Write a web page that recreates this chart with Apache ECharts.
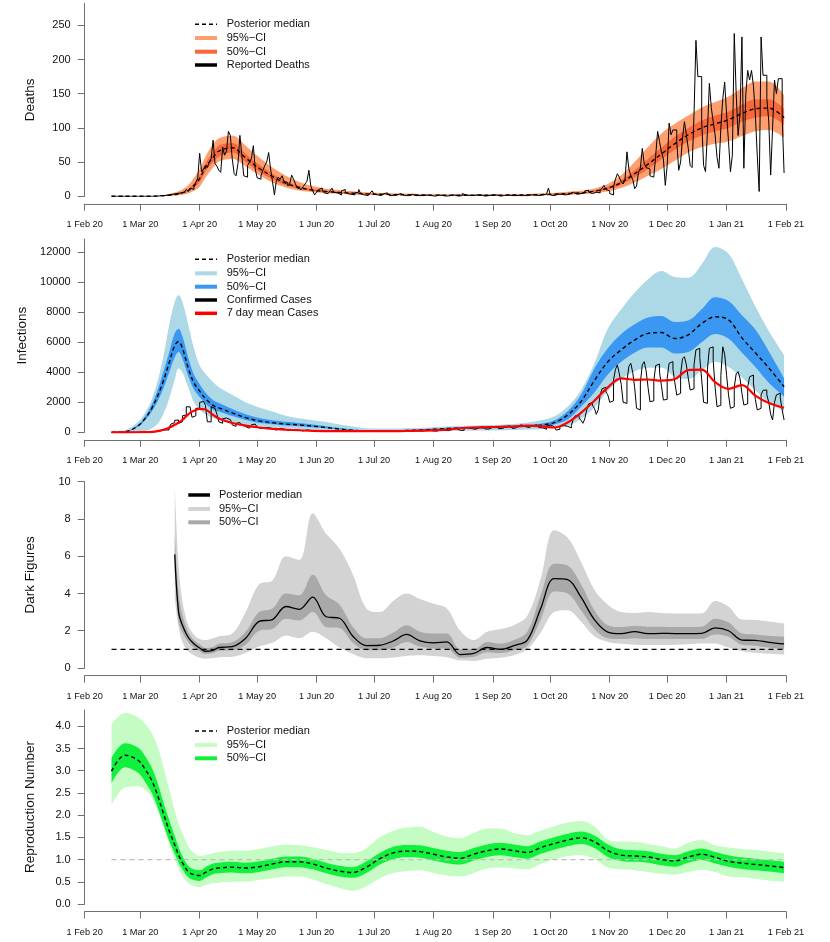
<!DOCTYPE html>
<html><head><meta charset="utf-8">
<script src="https://cdn.jsdelivr.net/npm/echarts@6/dist/echarts.min.js"></script>
<style>html,body{margin:0;padding:0;background:#fff}#c{width:830px;height:942px}</style>
</head><body><div id="c"></div>
<script>
// ---------- axis ticks ----------
const monthDays = [0,29,60,90,121,151,182,213,243,274,304,335,366];
const monthLabels = ['1 Feb 20','1 Mar 20','1 Apr 20','1 May 20','1 Jun 20','1 Jul 20','1 Aug 20','1 Sep 20','1 Oct 20','1 Nov 20','1 Dec 20','1 Jan 21','1 Feb 21'];
const deathTicks = [0,50,100,150,200,250];
const infTicks = [0,2000,4000,6000,8000,10000,12000];
const darkTicks = [0,2,4,6,8,10];
const rTicks = [0,0.5,1,1.5,2,2.5,3,3.5,4];

// ---------- days (offset from 1 Feb 2020) for model curves ----------
const knotDays = [14,21,28,32,35,38,41,44,47,49,51,54,57,60,63,67,70,
  77,84,91,98,105,112,119,126,133,140,147,154,161,168,
  175,182,189,196,203,210,217,224,231,238,245,252,259,266,273,280,287,294,301,308,315,322,329,336,343,350,357,
  365];
const dailyStart = 14; // 15 Feb 2020
const refLineDays = [14,365];

// ---------- Deaths ----------
const deathsReported = [
  0,0,0,0,0,0,0, 0,0,0,0,0,0,0, 0,0,0,0,0,0,0, 0,0,0,0,1,0,1,
  1,2,1,3,2,4,3, 5,3,6,8,10,7,12, 10,13,20,27,63,36,40, 45,42,50,55,82,48,44,
  38,35,72,60,66,95,89, 55,33,30,48,89,60,30, 28,45,50,55,74,40,27, 25,30,38,45,50,64,40,
  22,2,22,28,25,30,22, 20,15,18,31,25,18,12, 10,8,14,18,22,38,15, 8,2,6,10,12,8,5,
  4,3,8,12,6,5,3, 2,8,10,7,4,3,2, 2,5,6,10,4,2,1, 1,3,5,8,3,2,1,
  1,2,4,5,3,1,1, 0,2,3,4,2,1,0, 1,2,3,2,1,0,1, 0,1,2,2,1,1,0,
  0,1,2,1,1,0,0, 1,1,2,2,1,0,0, 1,4,2,1,1,0,1, 1,2,1,2,1,0,0,
  1,1,2,1,2,1,0, 0,1,2,2,1,1,0, 1,2,1,2,1,0,1, 1,2,3,2,1,1,1,
  2,2,3,3,12,2,1, 2,3,4,3,2,2,3, 3,5,6,4,3,2,4, 3,5,8,9,6,4,3,
  6,8,5,9,12,16,10, 8,4,2,14,25,33,28, 21,18,25,65,40,30,25, 11,15,35,41,70,48,42,
  40,30,28,29,60,95,80, 65,55,16,45,107,90,97, 97,80,38,50,85,109,90, 70,45,42,120,228,175,175,
  110,45,36,95,165,130,109, 90,57,41,100,143,167,120, 80,36,60,238,150,89,120, 233,41,148,184,170,184,162,
  120,60,7,233,177,177,143, 110,31,100,170,150,172,172, 116,34];
const deathsMed = [0,0,0,0,0.2,0.4,0.8,1.5,2.5,3.5,5,8.5,16,26,42,57,66,
  71,56,41,29,19,13,9,7,5.5,4.5,3.5,3,2.5,2,
  2,1.5,1.5,1.5,1.5,1.5,1.5,2,2,2.5,3,4,5,7.5,12,20,33,47,62,77,90,100,106,112,121,128,129,
  115];
const deathsHi95 = [0,0,0,0,0.5,1,2,3.5,5.5,7.5,10,16,27,40,58,76,85,
  89,74,57,42,30,21,15,11,9,7.5,6,5,4.5,4,
  3.5,3,3,3,3,3,3,3.5,3.5,4.5,5,6.5,8,11.5,18,31,50,72,92,106,118,130,138,146,158,168,168,
  148];
const deathsLo95 = [0,0,0,0,0,0.1,0.3,0.6,1,1.5,2.3,4,8,14,27,42,51,
  55,44,31,20,13,8.5,6,4.5,3.5,2.8,2.2,1.8,1.5,1.2,
  1.1,0.9,0.9,0.9,0.9,0.9,0.9,1.1,1.1,1.4,1.7,2.3,3,4.5,7,12,20,30,40,52,64,72,77,80,88,95,97,
  86];
const deathsHi50 = [0,0,0,0,0.25,0.5,1,1.9,3.1,4.3,6,10,19,31,48,64,74,
  78,62,46,33,22,15,10.5,8,6.5,5.3,4.2,3.6,3,2.4,
  2.4,1.8,1.8,1.8,1.8,1.8,1.8,2.4,2.4,3,3.6,4.7,5.8,8.7,14,23.5,38,55,71,87,100,111,118,124,134,142,142,
  128];
const deathsLo50 = [0,0,0,0,0.15,0.3,0.6,1.1,2,2.8,4,7,13,21,36,50,58,
  64,50,36,25,16,11,7.5,6,4.5,3.7,3,2.5,2.1,1.7,
  1.7,1.25,1.25,1.25,1.25,1.25,1.25,1.7,1.7,2.1,2.5,3.4,4.3,6.3,10,17,28,40,54,68,80,89,95,100,109,115,117,
  104];

// ---------- Infections ----------
const casesConfirmed = [
  0,0,0,0,0,0,0, 0,0,0,0,0,1,1, 2,3,5,8,10,15,20, 30,40,60,80,100,130,160,
  180,150,300,550,650,800,820, 600,700,1100,1150,1700,1700,1600, 1000,1100,1600,1600,2000,2050,1930, 1800,700,700,1700,1600,1500,1200,
  700,600,900,950,900,850,800, 490,400,600,650,600,500,380, 300,270,400,500,550,450,350, 250,200,300,350,320,300,250,
  180,150,200,260,250,220,180, 130,110,160,200,190,170,140, 110,90,130,160,150,130,110, 90,70,110,130,120,110,90,
  80,60,100,120,110,100,80, 70,55,95,115,105,95,80, 70,50,90,110,105,95,75, 65,50,90,110,100,90,70,
  65,50,95,110,100,90,70, 70,55,100,120,110,95,75, 70,60,110,130,120,100,80, 80,70,130,150,140,110,90,
  90,80,150,180,170,130,100, 110,100,200,250,240,180,130, 150,130,280,330,320,250,180, 200,180,330,400,380,300,220,
  220,200,350,430,400,320,240, 250,220,380,460,440,350,270, 280,240,420,500,480,380,300, 320,260,450,550,500,400,320,
  300,180,200,420,480,450,380, 280,150,200,380,450,460,400, 350,300,450,900,1100,1150,950, 800,600,900,1500,1900,2000,1800,
  1600,1200,1500,2500,2900,3000,2700, 2500,2000,2100,3500,4200,4490,3900, 3200,2000,1930,3400,4400,4600,4000, 3000,1600,1490,3300,4500,4710,4100,
  3000,2040,2100,3400,4450,4550,4000, 3100,2150,2200,3600,4600,4710,4200, 3300,2480,2600,3900,4900,5040,4500, 3600,2820,2900,4500,5500,5600,5000,
  3500,2000,1930,4200,5600,5700,4800, 3000,1710,1800,3800,5700,5200,3800, 2500,1600,1700,3000,3900,4040,3600, 2600,1820,1900,3000,3700,3820,3300,
  2200,1490,1600,2500,2800,2820,2500, 2000,1200,820,2000,2500,2600,2300, 1500,820];
const casesMean7 = [0,0,5,10,30,80,170,300,500,650,820,1200,1430,1560,1520,1160,920,
  620,450,320,230,175,135,95,80,75,75,75,75,80,90,
  110,130,170,270,320,340,370,400,440,400,320,650,1300,2100,3000,3600,3500,3520,3450,3550,4150,4180,3350,2900,3150,2450,1950,
  1640];
const infMed = [0,30,450,1000,1600,2400,3400,4600,5800,6050,5600,4300,3300,2750,2250,1800,1630,
  1290,980,760,640,550,490,410,320,220,140,90,80,90,120,
  150,200,250,280,300,320,350,380,420,480,650,1150,2050,3450,4700,5500,6150,6600,6650,6250,6500,7250,7700,7500,6300,5300,4300,
  3040];
const infHi95 = [0,130,700,1400,2200,3400,5000,7100,8700,9150,8700,7200,5600,4450,3900,3350,3000,
  2500,2000,1650,1380,1100,930,800,680,520,380,270,250,250,270,
  290,340,380,420,450,480,510,550,650,800,1050,1700,2800,4600,6900,8200,9300,10200,10750,10350,10300,11200,12350,11900,10200,8400,6750,
  5150];
const infLo95 = [0,0,30,100,250,550,1200,2200,3500,4250,4000,3000,2000,1500,1200,950,820,
  620,480,380,320,270,220,170,140,100,70,50,40,40,45,
  50,70,90,100,110,120,140,160,180,210,330,420,900,1650,2750,3550,4050,4300,4300,3700,3550,4100,4700,4350,3650,2800,2000,
  1380];
const infHi50 = [0,50,520,1150,1850,2800,4000,5300,6600,6900,6400,5000,3850,3200,2650,2150,1950,
  1550,1200,950,800,700,620,520,410,290,190,130,110,115,145,
  185,250,310,340,370,390,420,450,490,570,780,1400,2500,4250,5600,6550,7200,7650,7750,7350,7450,8200,9000,8750,7800,6850,5400,
  3600];
const infLo50 = [0,20,390,870,1380,2050,2900,3950,5000,5350,4900,3750,2850,2350,1900,1520,1380,
  1080,820,640,540,460,410,340,260,180,110,70,60,65,95,
  115,155,195,220,235,250,280,310,350,400,520,850,1700,2650,3850,4700,5300,5650,5650,5250,5350,6000,6550,6250,5300,4350,3300,
  2380];

// ---------- Dark figures ----------
const darkMed = [null,null,null,null,null,null,null,null,6.1,3.0,2.3,1.65,1.3,1.07,0.9,0.95,1.1,
  1.15,1.6,2.5,2.6,3.3,3.15,3.8,2.75,2.67,1.7,1.2,1.22,1.45,1.8,
  1.45,1.35,1.4,0.72,0.78,1.1,1.0,1.2,1.5,3.2,4.8,4.75,3.8,2.6,1.93,1.84,1.95,1.84,1.86,1.85,1.85,1.86,2.15,2.0,1.5,1.48,1.38,
  1.29];
const darkHi95 = [null,null,null,null,null,null,null,null,9.8,5.5,3.6,2.3,1.8,1.55,1.5,1.6,1.7,
  1.85,3.0,4.5,4.7,6.0,5.8,8.3,7.2,6.4,5.0,3.2,3.0,3.6,4.0,
  3.7,3.45,3.2,2.0,1.5,1.95,2.1,2.3,2.8,4.8,7.4,7.0,5.7,4.2,3.4,3.0,2.95,3.0,2.95,2.93,2.93,2.93,3.6,3.3,2.6,2.58,2.5,
  2.4];
const darkLo95 = [null,null,null,null,null,null,null,null,3.8,2.2,1.4,0.9,0.68,0.55,0.5,0.52,0.58,
  0.6,0.8,1.15,1.35,1.75,1.6,1.95,1.6,1.1,0.75,0.52,0.52,0.56,0.65,
  0.68,0.64,0.58,0.4,0.38,0.5,0.55,0.68,1.0,1.9,3.0,3.1,2.5,1.7,1.4,1.3,1.25,1.23,1.23,1.25,1.28,1.32,1.32,1.1,0.9,0.82,0.76,
  0.7];
const darkHi50 = [null,null,null,null,null,null,null,null,7.2,4.0,2.85,1.95,1.5,1.27,1.08,1.13,1.3,
  1.38,1.95,3.0,3.2,4.0,3.9,5.0,3.9,3.4,2.2,1.6,1.6,1.9,2.3,
  1.95,1.85,1.85,1.0,1.0,1.4,1.3,1.5,1.95,3.9,5.6,5.5,4.5,3.1,2.3,2.2,2.27,2.22,2.22,2.2,2.2,2.22,2.65,2.45,1.85,1.8,1.73,
  1.68];
const darkLo50 = [null,null,null,null,null,null,null,null,5.2,2.5,1.9,1.4,1.1,0.9,0.75,0.8,0.92,
  0.95,1.25,2.0,2.1,2.65,2.55,3.0,2.2,2.15,1.35,0.95,0.95,1.1,1.4,
  1.15,1.05,1.05,0.55,0.6,0.85,0.8,0.95,1.2,2.6,4.1,4.0,3.1,2.1,1.6,1.55,1.6,1.55,1.55,1.55,1.55,1.56,1.8,1.68,1.25,1.2,1.1,
  1.0];

// ---------- Reproduction number ----------
const rMed = [2.99,3.35,3.23,3.0,2.78,2.45,2.05,1.66,1.33,1.1,0.93,0.73,0.66,0.64,0.71,0.79,0.81,
  0.83,0.81,0.84,0.9,0.95,0.95,0.9,0.81,0.74,0.71,0.83,1.02,1.15,1.19,
  1.18,1.12,1.06,1.03,1.12,1.2,1.24,1.2,1.16,1.27,1.36,1.44,1.49,1.4,1.2,1.1,1.08,1.06,1.0,0.97,1.06,1.12,1.05,0.96,0.92,0.89,0.86,
  0.82];
const rHi95 = [4.04,4.3,4.2,4.03,3.85,3.55,3.1,2.6,2.1,1.8,1.6,1.3,1.15,1.08,1.1,1.14,1.17,
  1.2,1.2,1.24,1.3,1.34,1.32,1.28,1.22,1.15,1.14,1.26,1.5,1.65,1.72,
  1.74,1.62,1.52,1.48,1.6,1.7,1.7,1.6,1.55,1.65,1.75,1.83,1.87,1.75,1.45,1.4,1.4,1.35,1.3,1.25,1.38,1.44,1.32,1.27,1.24,1.22,1.18,
  1.14];
const rLo95 = [2.23,2.62,2.65,2.55,2.4,2.1,1.75,1.35,1.0,0.8,0.63,0.47,0.4,0.38,0.42,0.47,0.48,
  0.5,0.5,0.54,0.58,0.62,0.62,0.55,0.45,0.36,0.3,0.4,0.58,0.7,0.74,
  0.76,0.7,0.64,0.62,0.7,0.8,0.82,0.8,0.78,0.9,1.0,1.08,1.1,1.02,0.82,0.78,0.76,0.72,0.68,0.66,0.72,0.77,0.72,0.62,0.6,0.57,0.53,
  0.5];
const rHi50 = [3.29,3.62,3.52,3.3,3.07,2.73,2.3,1.9,1.53,1.28,1.08,0.86,0.78,0.76,0.83,0.91,0.93,
  0.95,0.93,0.96,1.02,1.07,1.07,1.02,0.93,0.86,0.83,0.96,1.15,1.29,1.33,
  1.32,1.26,1.2,1.17,1.26,1.34,1.38,1.34,1.3,1.41,1.5,1.58,1.63,1.54,1.34,1.23,1.21,1.19,1.13,1.1,1.19,1.25,1.17,1.1,1.05,1.02,0.99,
  0.95];
const rLo50 = [2.72,3.08,2.95,2.72,2.5,2.18,1.8,1.43,1.13,0.93,0.78,0.6,0.54,0.52,0.59,0.67,0.69,
  0.71,0.69,0.72,0.78,0.83,0.83,0.78,0.69,0.62,0.59,0.7,0.89,1.01,1.05,
  1.04,0.98,0.92,0.89,0.98,1.06,1.1,1.06,1.02,1.13,1.22,1.3,1.35,1.26,1.06,0.97,0.95,0.93,0.87,0.84,0.93,0.99,0.91,0.84,0.79,0.76,0.73,
  0.69];
const refLevel = 1;

// ---------- helpers ----------
const FONT = '"Liberation Sans", Arial, Helvetica, sans-serif';
const AXC = '#707070';
function daily(arr){ return arr.map((v,i)=>[dailyStart+i, v]); }
function knots(arr){ const out=[]; arr.forEach((v,i)=>{ if(v!=null) out.push([knotDays[i], v]); }); return out; }
// value-first rows, so that stacking acts on the value dimension
function knotsVF(arr){ const out=[]; arr.forEach((v,i)=>{ if(v!=null) out.push([v, knotDays[i]]); }); return out; }
function diff(hi, lo){ return hi.map((v,i)=> v==null ? null : v - lo[i]); }
const SM = 0.35;
function band(id, lo, hi, color, gi){
  return [
    {type:'line', id:id+'b', xAxisIndex:gi, yAxisIndex:gi, data:knotsVF(lo), encode:{x:1, y:0}, stack:id, symbol:'none', smooth:SM,
     lineStyle:{width:0, opacity:0}, silent:true},
    {type:'line', id:id+'t', xAxisIndex:gi, yAxisIndex:gi, data:knotsVF(diff(hi,lo)), encode:{x:1, y:0}, stack:id, symbol:'none', smooth:SM,
     lineStyle:{width:0, opacity:0}, areaStyle:{color:color, opacity:1}, silent:true}
  ];
}
function medLine(arr, gi, solid){
  return {type:'line', xAxisIndex:gi, yAxisIndex:gi, data:knots(arr), symbol:'none', smooth:SM, silent:true,
    lineStyle: solid ? {color:'#000', width:1.3} : {color:'#000', width:1.4, type:[4,3]}};
}
function refLine(gi, color, width, dash){
  return {type:'line', xAxisIndex:gi, yAxisIndex:gi, data:refLineDays.map(d=>[d, refLevel]), symbol:'none', silent:true,
    lineStyle:{color:color, width:width, type:dash}};
}
function xAxis(gi){
  return {type:'value', gridIndex:gi, min:0, max:366, offset:7.5, position:'bottom',
    axisLine:{show:true, onZero:false, lineStyle:{color:AXC, width:1}},
    axisTick:{show:true, length:7, customValues:monthDays, lineStyle:{color:AXC, width:1}},
    axisLabel:{customValues:monthDays, fontSize:9.2, color:'#111', fontFamily:FONT, margin:16,
      formatter: v => { const i = monthDays.indexOf(v); return i >= 0 ? monthLabels[i] : ''; }},
    splitLine:{show:false}};
}
function yAxis(gi, max, ticks, name, fmt){
  return {type:'value', gridIndex:gi, min:0, max:max, name:name, nameLocation:'middle', nameGap:47, nameRotate:90,
    nameTextStyle:{fontSize:13.5, color:'#111', fontFamily:FONT},
    axisLine:{show:true, onZero:false, lineStyle:{color:AXC, width:1}},
    axisTick:{show:true, length:7, customValues:ticks, lineStyle:{color:AXC, width:1}},
    axisLabel:{customValues:ticks, fontSize:11, color:'#111', fontFamily:FONT, margin:14, formatter:fmt},
    splitLine:{show:false}};
}
function legend(x1, x2, tx, rows){
  const els = [];
  rows.forEach(r => {
    els.push({type:'line', silent:true, z:100, shape:{x1:x1, y1:r.y, x2:x2, y2:r.y},
      style:{stroke:r.color, lineWidth:r.w, lineDash:r.dash || null}});
    els.push({type:'text', silent:true, z:100, x:tx, y:r.y,
      style:{text:r.label, fill:'#111', font:'11px ' + FONT, align:'left', verticalAlign:'middle'}});
  });
  return els;
}

const C = {
  d95:'#FD9F6E', d50:'#F7693A',
  i95:'#ADD8E6', i50:'#3A98F2',
  k95:'#D3D3D3', k50:'#A9A9A9',
  r95:'#C4FCC4', r50:'#12F03E'
};

const grids = [
  {left:84.7, width:701.3, top:3.3, height:193},
  {left:84.7, width:701.3, top:239, height:193.3},
  {left:84.7, width:701.3, top:481.7, height:186.3},
  {left:84.7, width:701.3, top:710, height:194}
];

const series = [
  // Deaths
  ...band('d95', deathsLo95, deathsHi95, C.d95, 0),
  ...band('d50', deathsLo50, deathsHi50, C.d50, 0),
  {type:'line', xAxisIndex:0, yAxisIndex:0, data:daily(deathsReported), step:'end', symbol:'none', silent:true,
   lineStyle:{color:'#000', width:1}},
  medLine(deathsMed, 0, false),
  // Infections
  ...band('i95', infLo95, infHi95, C.i95, 1),
  ...band('i50', infLo50, infHi50, C.i50, 1),
  medLine(infMed, 1, false),
  {type:'line', xAxisIndex:1, yAxisIndex:1, data:daily(casesConfirmed), step:'end', symbol:'none', silent:true,
   lineStyle:{color:'#000', width:1}},
  {type:'line', xAxisIndex:1, yAxisIndex:1, data:knots(casesMean7), smooth:SM, symbol:'none', silent:true,
   lineStyle:{color:'#FF0000', width:2.2}},
  // Dark figures
  ...band('k95', darkLo95, darkHi95, C.k95, 2),
  ...band('k50', darkLo50, darkHi50, C.k50, 2),
  refLine(2, '#000', 1.4, [5,4]),
  medLine(darkMed, 2, true),
  // Reproduction number
  ...band('r95', rLo95, rHi95, C.r95, 3),
  ...band('r50', rLo50, rHi50, C.r50, 3),
  refLine(3, '#BDBDBD', 1.2, [5,4]),
  medLine(rMed, 3, false)
];

const graphics = [
  ...legend(195, 217, 226.7, [
    {y:24.3, label:'Posterior median', color:'#000', w:1.6, dash:[4,3]},
    {y:38, label:'95%\u2212CI', color:C.d95, w:4},
    {y:51.7, label:'50%\u2212CI', color:C.d50, w:4},
    {y:65, label:'Reported Deaths', color:'#000', w:3.5}
  ]),
  ...legend(195, 217, 226.7, [
    {y:259.3, label:'Posterior median', color:'#000', w:1.6, dash:[4,3]},
    {y:273.3, label:'95%\u2212CI', color:C.i95, w:4},
    {y:286.7, label:'50%\u2212CI', color:C.i50, w:4},
    {y:300, label:'Confirmed Cases', color:'#000', w:3.5},
    {y:313.3, label:'7 day mean Cases', color:'#FF0000', w:3.5}
  ]),
  ...legend(188.3, 210, 219, [
    {y:495, label:'Posterior median', color:'#000', w:3.5},
    {y:509, label:'95%\u2212CI', color:C.k95, w:4},
    {y:522.3, label:'50%\u2212CI', color:C.k50, w:4}
  ]),
  ...legend(195, 217, 226.7, [
    {y:731, label:'Posterior median', color:'#000', w:1.6, dash:[4,3]},
    {y:745, label:'95%\u2212CI', color:C.r95, w:4},
    {y:758.3, label:'50%\u2212CI', color:C.r50, w:4}
  ])
];

const chart = echarts.init(document.getElementById('c'), null, {renderer:'canvas'});
chart.setOption({
  animation:false,
  backgroundColor:'#fff',
  grid: grids,
  xAxis: [xAxis(0), xAxis(1), xAxis(2), xAxis(3)],
  yAxis: [
    yAxis(0, 282.2, deathTicks, 'Deaths', v => String(v)),
    yAxis(1, 12889, infTicks, 'Infections', v => String(v)),
    yAxis(2, 10, darkTicks, 'Dark Figures', v => String(v)),
    yAxis(3, 4.367, rTicks, 'Reproduction Number', v => v.toFixed(1))
  ],
  series: series,
  graphic: graphics
});
</script>
</body></html>
